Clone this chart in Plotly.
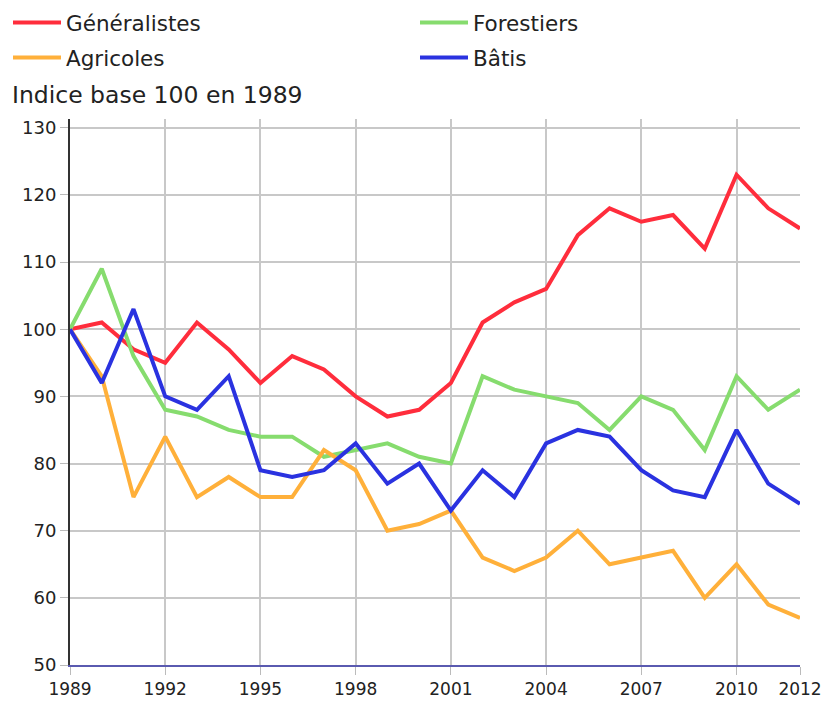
import plotly.graph_objects as go

years = list(range(1989, 2013))
generalistes = [100, 101, 97, 95, 101, 97, 92, 96, 94, 90, 87, 88, 92, 101, 104, 106, 114, 118, 116, 117, 112, 123, 118, 115]
forestiers = [100, 109, 96, 88, 87, 85, 84, 84, 81, 82, 83, 81, 80, 93, 91, 90, 89, 85, 90, 88, 82, 93, 88, 91]
agricoles = [100, 93, 75, 84, 75, 78, 75, 75, 82, 79, 70, 71, 73, 66, 64, 66, 70, 65, 66, 67, 60, 65, 59, 57]
batis = [100, 92, 103, 90, 88, 93, 79, 78, 79, 83, 77, 80, 73, 79, 75, 83, 85, 84, 79, 76, 75, 85, 77, 74]
x_ticks = [1989, 1992, 1995, 1998, 2001, 2004, 2007, 2010, 2012]
y_ticks = [50, 60, 70, 80, 90, 100, 110, 120, 130]

series = [
    ("Généralistes", generalistes, "#ff2d3c", "legend"),
    ("Forestiers", forestiers, "#86dc6e", "legend2"),
    ("Agricoles", agricoles, "#ffb03a", "legend"),
    ("Bâtis", batis, "#2a32e0", "legend2"),
]

fig = go.Figure()
for name, vals, col, leg in series:
    fig.add_trace(go.Scatter(x=years, y=vals, name=name, mode="lines",
                             legend=leg, legendgroup=name,
                             line=dict(color=col, width=4)))

W, H = 822, 704
T, B = 119, 39
plot_h = H - T - B
leg_y = 1 + (T - 2) / plot_h
font = "DejaVu Sans, Verdana, sans-serif"
leg_common = dict(orientation="v", xanchor="left", y=leg_y, yanchor="top",
                  xref="container", yref="paper",
                  font=dict(size=21.5, color="#222"), itemwidth=48,
                  traceorder="grouped", tracegroupgap=4,
                  bgcolor="rgba(0,0,0,0)")
fig.update_layout(
    width=W, height=H,
    margin=dict(l=70, r=22, t=T, b=B, autoexpand=False),
    paper_bgcolor="white", plot_bgcolor="white",
    font=dict(family=font, size=18, color="#222"),
    showlegend=True,
    legend=dict(x=8 / W, **leg_common),
    legend2=dict(x=415 / W, **leg_common),
    title=dict(text="Indice base 100 en 1989", x=12 / W, xanchor="left",
               xref="container", y=1 - 95 / H, yref="container", yanchor="middle",
               font=dict(size=23.5, color="#222")),
    xaxis=dict(range=[1989, 2012], tickvals=x_ticks, ticktext=[str(v) for v in x_ticks],
               showgrid=True, gridcolor="#c8c8c8", gridwidth=2,
               showline=True, linecolor="#5a5ab0", linewidth=2,
               ticks="outside", ticklen=8, tickcolor="#bbbbbb",
               ticklabeloverflow="allow",
               zeroline=False, tickfont=dict(size=17, color="#222")),
    yaxis=dict(range=[50, 131.3], tickvals=y_ticks,
               showgrid=True, gridcolor="#c8c8c8", gridwidth=2,
               showline=True, linecolor="#333", linewidth=2,
               ticks="outside", ticklen=8, tickcolor="#bbbbbb",
               zeroline=False, tickfont=dict(size=18, color="#222")),
)

fig.write_html("out.html", config={"displayModeBar": False},
               post_script="document.body.style.margin='0px';document.body.style.overflow='hidden';")
